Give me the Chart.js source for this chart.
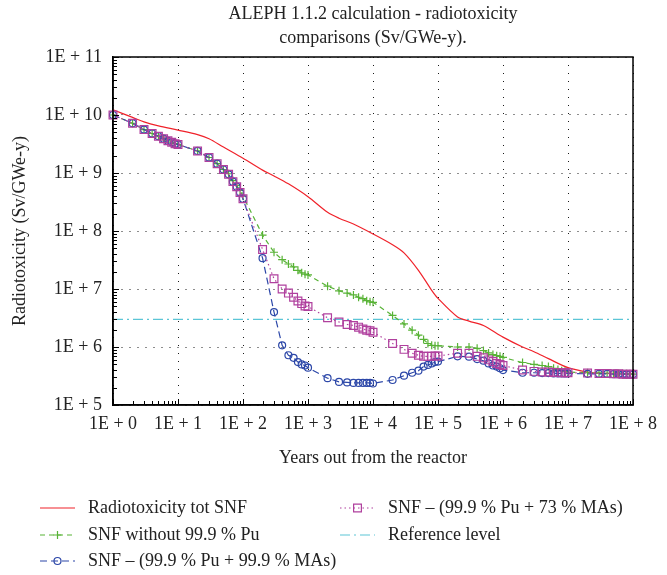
<!DOCTYPE html>
<html>
<head>
<meta charset="utf-8">
<script src="https://cdn.jsdelivr.net/npm/chart.js@4.4.0/dist/chart.umd.min.js"></script>
<style>
  html, body { margin: 0; padding: 0; background: #fff; }
</style>
</head>
<body>
<canvas id="chart" width="667" height="575"></canvas>
<script>
// sample years (markers sit at 1..9 x each decade)
var years = [
  1, 2, 3, 4, 5, 6, 7, 8, 9,
  10, 20, 30, 40, 50, 60, 70, 80, 90,
  100, 200, 300, 400, 500, 600, 700, 800, 900,
  1e3, 2e3, 3e3, 4e3, 5e3, 6e3, 7e3, 8e3, 9e3,
  1e4, 2e4, 3e4, 4e4, 5e4, 6e4, 7e4, 8e4, 9e4,
  1e5, 2e5, 3e5, 4e5, 5e5, 6e5, 7e5, 8e5, 9e5,
  1e6, 2e6, 3e6, 4e6, 5e6, 6e6, 7e6, 8e6, 9e6,
  1e7, 2e7, 3e7, 4e7, 5e7, 6e7, 7e7, 8e7, 9e7,
  1e8
];

// total SNF curve (no markers, own sample years)
var totYears = [1, 2, 3, 5, 10, 20, 30, 50, 100, 200, 300, 500, 1e3, 2e3, 3e3, 5e3,
  1e4, 2e4, 3e4, 5e4, 8e4, 1e5, 2e5, 3e5, 5e5, 1e6, 2e6, 3e6, 5e6, 1e7, 2e7, 3e7, 1e8];
var totSNF = [1.23e10, 9.1e9, 7.6e9, 6.5e9, 5.5e9, 4.6e9, 3.9e9, 2.8e9, 1.8e9, 1.12e9, 8.9e8, 6.5e8,
  3.9e8, 2.1e8, 1.66e8, 1.32e8, 8.9e7, 5.8e7, 4.2e7, 2.1e7, 9.5e6, 6.9e6, 3.3e6, 2.8e6, 2.35e6,
  1.48e6, 1.0e6, 8.3e5, 6.3e5, 4.4e5, 3.7e5, 3.55e5, 3.45e5];

var noPu = [
  1.0e10, 7.2e9, 5.6e9, 4.8e9, 4.3e9, 3.9e9, 3.6e9, 3.4e9, 3.2e9,
  3.1e9, 2.4e9, 1.85e9, 1.45e9, 1.15e9, 9.7e8, 7.4e8, 6.1e8, 5.0e8,
  4.0e8, 8.5e7, 4.3e7, 3.2e7, 2.7e7, 2.4e7, 2.1e7, 1.9e7, 1.8e7,
  1.75e7, 1.12e7, 9.3e6, 8.5e6, 7.9e6, 7.2e6, 6.8e6, 6.3e6, 6.0e6,
  5.9e6, 3.5e6, 2.5e6, 1.95e6, 1.6e6, 1.35e6, 1.15e6, 1.07e6, 1.05e6,
  1.05e6, 1.0e6, 1.0e6, 9.5e5, 8.7e5, 7.9e5, 7.4e5, 7.1e5, 6.9e5,
  6.6e5, 5.4e5, 5.0e5, 4.8e5, 4.6e5, 4.3e5, 4.1e5, 3.9e5, 3.8e5,
  3.7e5, 3.6e5, 3.55e5, 3.5e5, 3.5e5, 3.5e5, 3.45e5, 3.45e5, 3.4e5,
  3.4e5
];

var pu999ma999 = [
  1.0e10, 7.2e9, 5.6e9, 4.8e9, 4.3e9, 3.9e9, 3.6e9, 3.4e9, 3.2e9,
  3.1e9, 2.4e9, 1.85e9, 1.45e9, 1.15e9, 9.5e8, 7.1e8, 5.8e8, 4.6e8,
  3.6e8, 3.4e7, 4.0e6, 1.07e6, 7.2e5, 6.5e5, 5.5e5, 5.0e5, 4.8e5,
  4.4e5, 2.9e5, 2.5e5, 2.45e5, 2.4e5, 2.4e5, 2.4e5, 2.4e5, 2.4e5,
  2.35e5, 2.7e5, 3.2e5, 3.6e5, 3.9e5, 4.6e5, 4.9e5, 5.2e5, 5.5e5,
  5.6e5, 6.9e5, 6.8e5, 6.2e5, 5.8e5, 5.2e5, 4.8e5, 4.6e5, 4.3e5,
  4.0e5, 3.6e5, 3.6e5, 3.55e5, 3.55e5, 3.5e5, 3.5e5, 3.5e5, 3.5e5,
  3.5e5, 3.45e5, 3.45e5, 3.45e5, 3.4e5, 3.4e5, 3.4e5, 3.4e5, 3.4e5,
  3.4e5
];

var pu999ma73 = [
  1.0e10, 7.2e9, 5.6e9, 4.8e9, 4.3e9, 3.9e9, 3.6e9, 3.4e9, 3.2e9,
  3.1e9, 2.4e9, 1.85e9, 1.45e9, 1.15e9, 9.5e8, 7.1e8, 5.8e8, 4.6e8,
  3.6e8, 4.8e7, 1.5e7, 1.0e7, 8.5e6, 7.2e6, 6.2e6, 5.6e6, 5.1e6,
  5.0e6, 3.2e6, 2.7e6, 2.45e6, 2.35e6, 2.2e6, 2.05e6, 1.95e6, 1.9e6,
  1.8e6, 1.15e6, 9.1e5, 7.8e5, 7.2e5, 6.9e5, 6.9e5, 6.9e5, 7.0e5,
  7.0e5, 7.8e5, 7.8e5, 6.9e5, 6.5e5, 6.0e5, 5.6e5, 5.2e5, 5.0e5,
  4.8e5, 4.0e5, 3.8e5, 3.7e5, 3.7e5, 3.65e5, 3.65e5, 3.6e5, 3.6e5,
  3.6e5, 3.55e5, 3.5e5, 3.5e5, 3.45e5, 3.45e5, 3.4e5, 3.4e5, 3.4e5,
  3.4e5
];

var refYears = [1, 1e8];
var refLevel = [3.0e6, 3.0e6];

var xTickValues = [1, 10, 100, 1e3, 1e4, 1e5, 1e6, 1e7, 1e8];
var xTickLabels = ['1E + 0', '1E + 1', '1E + 2', '1E + 3', '1E + 4', '1E + 5', '1E + 6', '1E + 7', '1E + 8'];
var yTickValues = [1e5, 1e6, 1e7, 1e8, 1e9, 1e10, 1e11];
var yTickLabels = ['1E + 5', '1E + 6', '1E + 7', '1E + 8', '1E + 9', '1E + 10', '1E + 11'];

var FONT = '"Liberation Serif", "DejaVu Serif", serif';

function pairs(xs, ys) {
  var out = [];
  for (var i = 0; i < xs.length; i++) out.push({ x: xs[i], y: ys[i] });
  return out;
}

// frame, inward minor ticks, title and the two-column legend
var decorPlugin = {
  id: 'decor',
  afterDraw: function (chart) {
    var ctx = chart.ctx;
    var a = chart.chartArea;
    var xs = chart.scales.x, ys = chart.scales.y;
    ctx.save();
    ctx.strokeStyle = '#000';
    ctx.lineWidth = 1;
    ctx.beginPath();
    for (var e = 0; e < 8; e++) {
      for (var m = 1; m <= 10; m++) {
        var px = Math.round(xs.getPixelForValue(m * Math.pow(10, e))) + 0.5;
        var len = (m === 1 || m === 10) ? 6 : 4;
        ctx.moveTo(px, a.bottom);
        ctx.lineTo(px, a.bottom - len);
      }
    }
    for (var e2 = 5; e2 < 11; e2++) {
      for (var m2 = 1; m2 <= 10; m2++) {
        var py = Math.round(ys.getPixelForValue(m2 * Math.pow(10, e2))) + 0.5;
        var len2 = (m2 === 1 || m2 === 10) ? 6 : 4;
        ctx.moveTo(a.left, py);
        ctx.lineTo(a.left + len2, py);
      }
    }
    ctx.stroke();

    ctx.lineWidth = 1.5;
    ctx.strokeRect(a.left, a.top, a.right - a.left, a.bottom - a.top);

    ctx.fillStyle = '#222';
    ctx.font = '18px ' + FONT;
    ctx.textAlign = 'center';
    ctx.textBaseline = 'middle';
    var cx = (a.left + a.right) / 2;
    ctx.fillText('ALEPH 1.1.2 calculation - radiotoxicity', cx, 14);
    ctx.fillText('comparisons (Sv/GWe-y).', cx, 38);

    // legend
    var slots = [[40, 508], [40, 535], [40, 561], [340, 508], [340, 535]];
    ctx.textAlign = 'left';
    chart.data.datasets.forEach(function (ds, i) {
      var x = slots[i][0], y = slots[i][1];
      ctx.strokeStyle = ds.borderColor;
      ctx.lineWidth = ds.borderWidth;
      ctx.setLineDash(ds.borderDash || []);
      ctx.beginPath();
      ctx.moveTo(x, y);
      ctx.lineTo(x + 35, y);
      ctx.stroke();
      ctx.setLineDash([]);
      if (ds.pointRadius > 0) {
        ctx.fillStyle = 'rgba(0,0,0,0)';
        ctx.strokeStyle = ds.borderColor;
        ctx.lineWidth = ds.pointBorderWidth;
        Chart.helpers.drawPoint(ctx, { pointStyle: ds.pointStyle, radius: ds.pointRadius, borderWidth: ds.pointBorderWidth }, x + 17.5, y);
      }
      ctx.fillStyle = '#222';
      ctx.fillText(ds.label, x + 48, y);
    });
    ctx.restore();
  }
};

var ctx = document.getElementById('chart').getContext('2d');
var myChart = new Chart(ctx, {
  type: 'line',
  data: {
    datasets: [
      {
        label: 'Radiotoxicity tot SNF',
        data: pairs(totYears, totSNF),
        borderColor: '#f0222a',
        borderWidth: 1.2,
        pointRadius: 0,
        tension: 0.3,
        order: 4
      },
      {
        label: 'SNF without 99.9 % Pu',
        data: pairs(years, noPu),
        borderColor: '#58b336',
        borderWidth: 1.2,
        borderDash: [5, 4],
        pointStyle: 'cross',
        pointRadius: 4,
        pointBorderWidth: 1.2,
        pointBackgroundColor: 'rgba(0,0,0,0)',
        order: 3
      },
      {
        label: 'SNF – (99.9 % Pu + 99.9 % MAs)',
        data: pairs(years, pu999ma999),
        borderColor: '#2c47a8',
        borderWidth: 1.2,
        borderDash: [7, 4],
        pointStyle: 'circle',
        pointRadius: 3.5,
        pointBorderWidth: 1.2,
        pointBackgroundColor: 'rgba(0,0,0,0)',
        order: 2
      },
      {
        label: 'SNF – (99.9 % Pu + 73 % MAs)',
        data: pairs(years, pu999ma73),
        borderColor: '#b0409e',
        borderWidth: 1.2,
        borderDash: [1.5, 3],
        pointStyle: 'rect',
        pointRadius: 5.5,
        pointBorderWidth: 1.2,
        pointBackgroundColor: 'rgba(0,0,0,0)',
        order: 1
      },
      {
        label: 'Reference level',
        data: pairs(refYears, refLevel),
        borderColor: '#5cc5d6',
        borderWidth: 1.2,
        borderDash: [10, 4, 2, 4],
        pointRadius: 0,
        order: 5
      }
    ]
  },
  options: {
    responsive: false,
    animation: false,
    clip: false,
    layout: { padding: { top: 57, right: 34, bottom: 100, left: 0 } },
    plugins: {
      legend: { display: false },
      title: { display: false },
      tooltip: { enabled: false }
    },
    scales: {
      x: {
        type: 'logarithmic',
        min: 1,
        max: 1e8,
        afterBuildTicks: function (scale) {
          scale.ticks = xTickValues.map(function (v) { return { value: v }; });
        },
        afterFit: function (scale) { scale.height = 70; },
        ticks: {
          autoSkip: false,
          maxRotation: 0,
          padding: 8,
          color: '#222',
          font: { family: FONT, size: 18 },
          callback: function (v, i) { return xTickLabels[i]; }
        },
        grid: { color: '#000', lineWidth: 0.9, drawTicks: false },
        border: { display: true, color: '#000', width: 1.5, dash: [1, 7] },
        title: {
          display: true,
          text: 'Years out from the reactor',
          color: '#222',
          font: { family: FONT, size: 18 },
          padding: { top: 0, bottom: 6 }
        }
      },
      y: {
        type: 'logarithmic',
        min: 1e5,
        max: 1e11,
        afterBuildTicks: function (scale) {
          scale.ticks = yTickValues.map(function (v) { return { value: v }; });
        },
        afterFit: function (scale) { scale.width = 113; },
        ticks: {
          autoSkip: false,
          padding: 11,
          color: '#222',
          font: { family: FONT, size: 18 },
          callback: function (v, i) { return yTickLabels[i]; }
        },
        grid: { color: '#000', lineWidth: 0.9, drawTicks: false },
        border: { display: true, color: '#000', width: 1.5, dash: [1, 7] },
        title: {
          display: true,
          text: 'Radiotoxicity (Sv/GWe-y)',
          color: '#222',
          font: { family: FONT, size: 18 },
          padding: { top: 9, bottom: 0 }
        }
      }
    }
  },
  plugins: [decorPlugin]
});
</script>
</body>
</html>
